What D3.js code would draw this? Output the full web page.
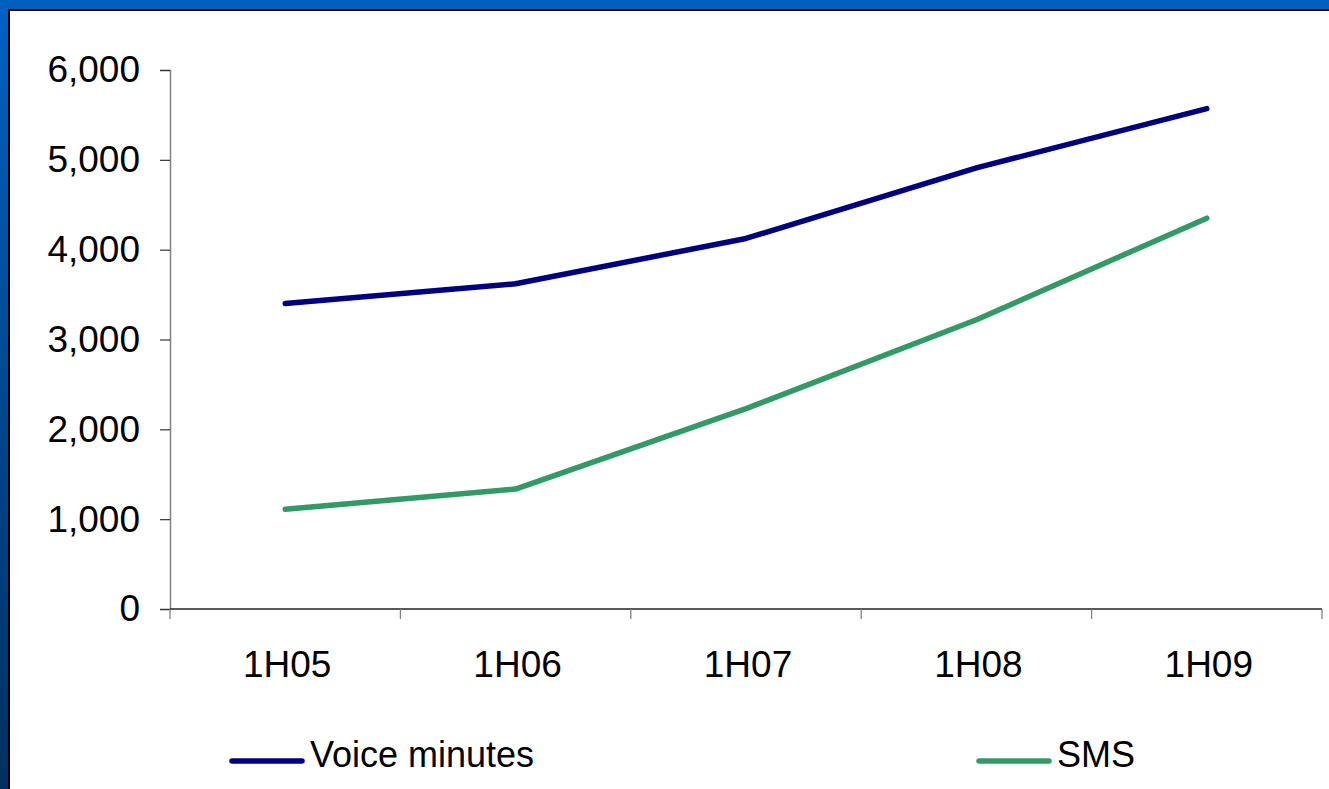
<!DOCTYPE html>
<html><head><meta charset="utf-8">
<script src="https://cdn.jsdelivr.net/npm/d3@7"></script>
<style>body{margin:0;padding:0;overflow:hidden;background:#fff}svg{display:block}text{font-family:"Liberation Sans",Arial,sans-serif;fill:#000}</style>
</head><body>
<svg id="c" width="1329" height="789"></svg>
<script>
const categories = ["1H05","1H06","1H07","1H08","1H09"];
const voiceMinutes = [3400, 3620, 4125, 4910, 5570];
const sms = [1110, 1335, 2230, 3220, 4350];
const yTicks = [0,1000,2000,3000,4000,5000,6000];
const seriesNames = ["Voice minutes","SMS"];
const seriesColors = ["#000080","#339966"];

const svg = d3.select("#c");
const W = 1329, H = 789;
const defs = svg.append("defs");
const g1 = defs.append("linearGradient").attr("id","bg").attr("x1","0").attr("y1","0").attr("x2","0").attr("y2","1");
g1.append("stop").attr("offset","0").attr("stop-color","#0062c4");
g1.append("stop").attr("offset","1").attr("stop-color","#003060");
svg.append("rect").attr("width",W).attr("height",H).attr("fill","url(#bg)");
svg.append("rect").attr("x",0).attr("y",0).attr("width",W).attr("height",9).attr("fill","#0060c0");
svg.append("rect").attr("x",8).attr("y",9).attr("width",W-8).attr("height",H-9).attr("fill","#000");
svg.append("rect").attr("x",10).attr("y",11).attr("width",W-10).attr("height",H-11).attr("fill","#fff");

const x = d3.scaleBand().domain(categories).range([170,1322]);
const y = d3.scaleLinear().domain([0,6000]).range([609,70]);

// y axis
const ya = svg.append("g").attr("transform","translate(170,0)")
  .call(d3.axisLeft(y).tickValues(yTicks).tickSize(10).tickPadding(20).tickFormat(d3.format(",")));
ya.select(".domain").attr("stroke","#808080").attr("stroke-width",1.5);
ya.selectAll(".tick line").attr("stroke","#333").attr("stroke-width",1.2);
ya.selectAll("text").attr("font-size",37).attr("font-family","'Liberation Sans',Arial,sans-serif").attr("fill","#000");

// x axis
const xa = svg.append("g").attr("transform","translate(0,609)");
xa.append("line").attr("x1",170).attr("x2",1322).attr("y1",0).attr("y2",0).attr("stroke","#222").attr("stroke-width",1.3);
const bounds = categories.map(c=>x(c)).concat([x.range()[1]]);
xa.selectAll("line.t").data(bounds).join("line").attr("class","t")
  .attr("x1",d=>d).attr("x2",d=>d).attr("y1",0).attr("y2",10).attr("stroke","#808080").attr("stroke-width",1.3);
xa.selectAll("text").data(categories).join("text")
  .attr("x",d=>x(d)+x.bandwidth()/2+2).attr("y",68)
  .attr("text-anchor","middle").attr("font-size",37).text(d=>d);

// lines
const line = d3.line().x((d,i)=>x(categories[i])+x.bandwidth()/2).y(d=>y(d));
[voiceMinutes, sms].forEach((s,i)=>{
  svg.append("path").attr("d",line(s)).attr("fill","none")
    .attr("stroke",seriesColors[i]).attr("stroke-width",5.5)
    .attr("stroke-linecap","round").attr("stroke-linejoin","round");
});

// legend
const legX = [232, 979];
seriesNames.forEach((n,i)=>{
  const lg = svg.append("g").attr("transform",`translate(${legX[i]},761)`);
  lg.append("line").attr("x1",0).attr("x2",70).attr("y1",0).attr("y2",0)
    .attr("stroke",seriesColors[i]).attr("stroke-width",5.5).attr("stroke-linecap","round");
  lg.append("text").attr("x",78).attr("y",6).attr("font-size",36).text(n);
});
</script>
</body></html>
